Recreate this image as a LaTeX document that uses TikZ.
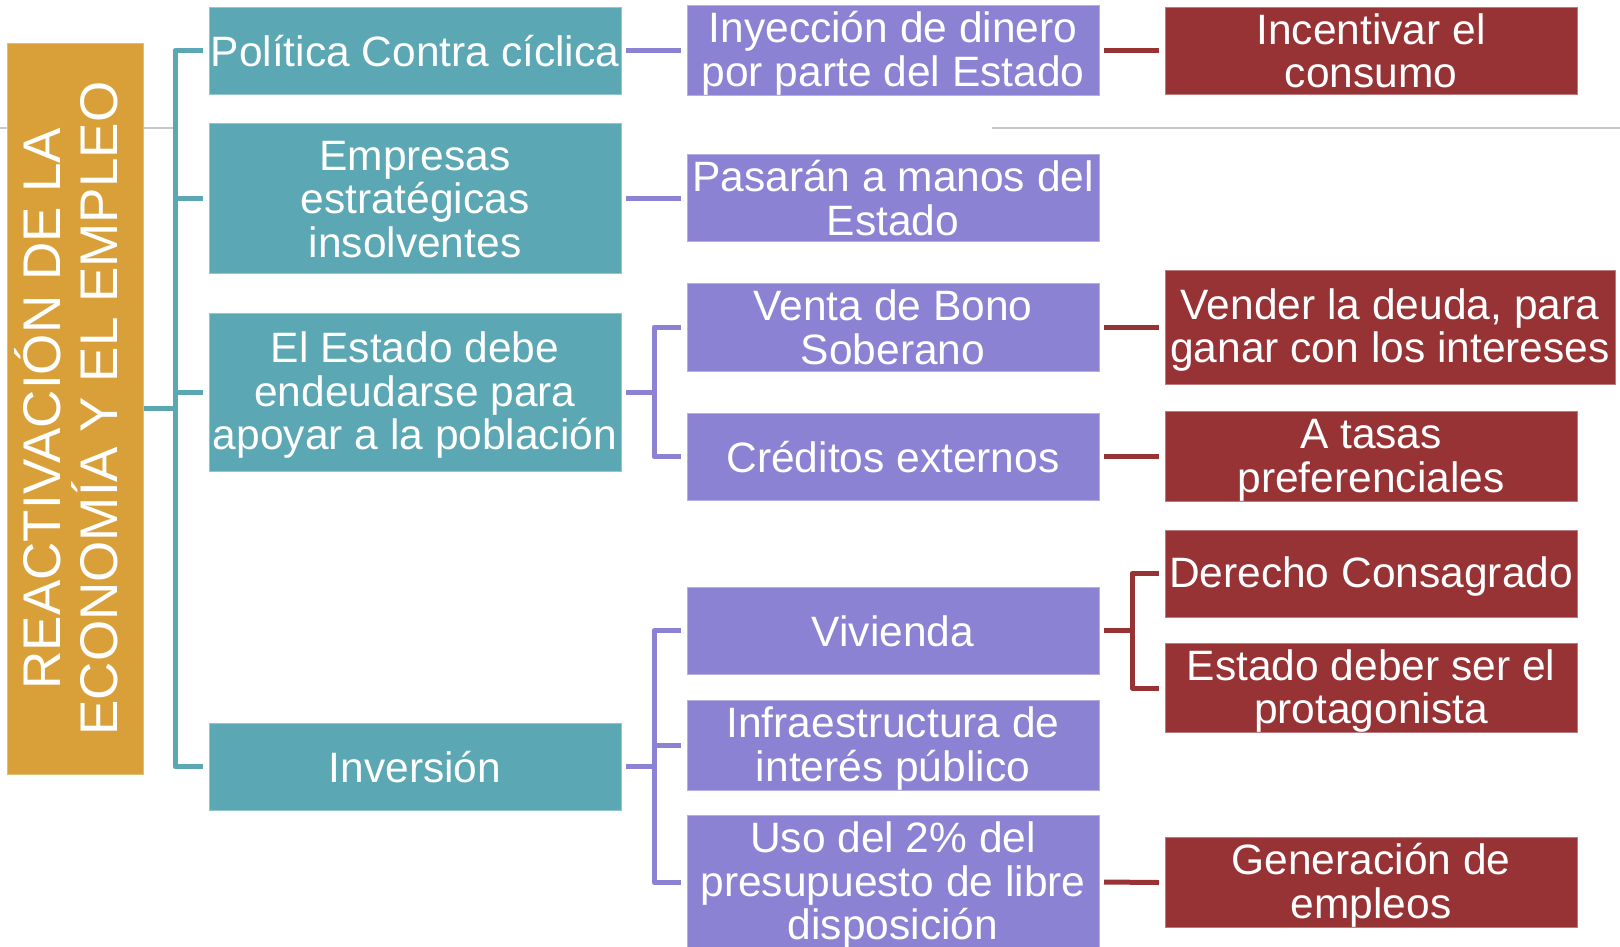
\documentclass[tikz,border=0pt]{standalone}
\usepackage{fontspec}
\usepackage{graphicx}
\setmainfont{Liberation Sans}
\definecolor{myteal}{RGB}{91,167,180}
\definecolor{mypurple}{RGB}{139,130,211}
\definecolor{myred}{RGB}{151,50,53}
\definecolor{mygold}{RGB}{217,160,58}
\definecolor{mygray}{RGB}{200,200,200}
\newcommand\topstrut{\rule{0pt}{37pt}}
\newcommand\botstrut{\rule[-6pt]{0pt}{6pt}}
\begin{document}
\begin{tikzpicture}[x=1pt,y=-1pt,
  box/.style={rectangle, inner sep=0pt, outer sep=0pt, text=white, align=center,
    font=\fontsize{42.5}{43.5}\selectfont, line width=1pt, minimum width=412pt, minimum height=87pt},
  tbox/.style={box, fill=myteal, draw=myteal!65!white},
  pbox/.style={box, fill=mypurple, draw=mypurple!65!white},
  rbox/.style={box, fill=myred, draw=myred!65!white},
  rootbox/.style={rectangle, inner sep=0pt, fill=mygold, draw=mygold!70!white, line width=1pt,
    text=white, minimum width=136pt, minimum height=731pt},
  link/.style={line width=5pt, line join=round},
  tline/.style={link, myteal},
  pline/.style={link, mypurple},
  rline/.style={link, myred},
  sepline/.style={line width=2pt, mygray}
]
\useasboundingbox (0,0) rectangle (1620,946);

% decorative gray rules
\coordinate (g1) at (0,128);
\coordinate (g2) at (175,128);
\coordinate (g3) at (992,128);
\coordinate (g4) at (1620,128);
\draw[sepline] (g1) -- (g2);
\draw[sepline] (g3) -- (g4);

% root
\node[rootbox] (root) at (75,408.5) {\rotatebox{90}{\fontsize{53}{58}\selectfont
  \begin{tabular}{@{}c@{}}REACTIVACIÓN DE LA\\[-6pt] ECONOMÍA Y EL EMPLEO\end{tabular}}};

% level 1
\node[tbox] (T1) at (415,50.5) {\topstrut Política Contra cíclica\botstrut};
\node[tbox, minimum height=150pt] (T2) at (415,198) {\topstrut Empresas\\estratégicas\\insolventes\botstrut};
\node[tbox, minimum height=158pt] (T3) at (415,392) {\topstrut El Estado debe\\endeudarse para\\apoyar a la población\botstrut};
\node[tbox] (T4) at (415,766.5) {\topstrut Inversión\botstrut};

% level 2
\node[pbox] (P1) at (893,50.5) {\topstrut Inyección de dinero\\por parte del Estado\botstrut};
\node[pbox, minimum height=86.5pt] (P2) at (893,198) {\topstrut Pasarán a manos del\\Estado\botstrut};
\node[pbox, minimum height=88pt] (P3) at (893,327) {\topstrut Venta de Bono\\Soberano\botstrut};
\node[pbox] (P4) at (893,456.5) {\topstrut Créditos externos\botstrut};
\node[pbox] (P5) at (893,630.5) {\topstrut Vivienda\botstrut};
\node[pbox] (P6) at (893,745.5) {\topstrut Infraestructura de\\interés público\botstrut};
\node[pbox, minimum height=130pt] (P7) at (893,882) {\topstrut Uso del 2\% del\\presupuesto de libre\\disposición\botstrut};

% level 3
\node[rbox] (R1) at (1371,50.5) {\topstrut Incentivar el\\consumo\botstrut};
\node[rbox, minimum width=450pt, minimum height=114pt] (R2) at (1390,327) {\topstrut Vender la deuda, para\\ganar con los intereses\botstrut};
\node[rbox] (R3) at (1371,456.5) {\topstrut A tasas\\preferenciales\botstrut};
\node[rbox] (R4) at (1371,573.5) {\topstrut Derecho Consagrado\botstrut};
\node[rbox] (R5) at (1371,688) {\topstrut Estado deber ser el\\protagonista\botstrut};
\node[rbox] (R6) at (1371,882.5) {\topstrut Generación de\\empleos\botstrut};

% bracket spines
\coordinate (tv) at (175,0);
\coordinate (pv) at (654,0);
\coordinate (rv) at (1132,0);

% teal bracket
\draw[tline] (root.east) -- (tv |- root.east);
\draw[tline] ([xshift=-6pt]T1.west) -| (tv |- T4.west) -- ([xshift=-6pt]T4.west);
\draw[tline] (tv |- T2.west) -- ([xshift=-6pt]T2.west);
\draw[tline] (tv |- T3.west) -- ([xshift=-6pt]T3.west);

% purple links
\draw[pline] ([xshift=5pt]T1.east) -- ([xshift=-6pt]P1.west);
\draw[pline] ([xshift=5pt]T2.east) -- ([xshift=-6pt]P2.west);
\draw[pline] ([xshift=5pt]T3.east) -- (pv |- T3.east);
\draw[pline] ([xshift=-6pt]P3.west) -| (pv |- P4.west) -- ([xshift=-6pt]P4.west);
\draw[pline] ([xshift=5pt]T4.east) -- (pv |- T4.east);
\draw[pline] ([xshift=-6pt]P5.west) -| (pv |- P7.west) -- ([xshift=-6pt]P7.west);
\draw[pline] (pv |- P6.west) -- ([xshift=-6pt]P6.west);

% red links
\draw[rline] ([xshift=5pt]P1.east) -- ([xshift=-6pt]R1.west);
\draw[rline] ([xshift=5pt]P3.east) -- ([xshift=-6pt]R2.west);
\draw[rline] ([xshift=5pt]P4.east) -- ([xshift=-6pt]R3.west);
\draw[rline] ([xshift=5pt]P5.east) -- (rv |- P5.east);
\draw[rline] ([xshift=-6pt]R4.west) -| (rv |- R5.west) -- ([xshift=-6pt]R5.west);
\draw[rline] ([xshift=5pt]P7.east) -- ([xshift=-6pt]R6.west);
\end{tikzpicture}
\end{document}
